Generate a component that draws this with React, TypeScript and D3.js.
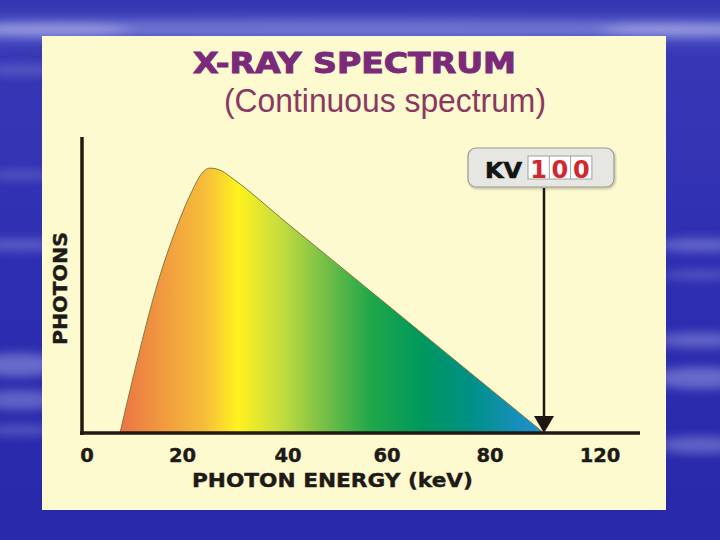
import React from "react";
import * as d3 from "d3";

const energy = [6.91, 10.68, 14.45, 18.22, 21.8, 23.51, 25.21, 27.49, 29.38, 40, 60, 80, 100];
const photons = [0, 25.2, 48.1, 66.2, 80.6, 86.2, 88.3, 87.3, 85, 69.7, 42.8, 14.7, 0];
const tickValues = [0, 20, 40, 60, 80, 120];
const kvDigits = ["1", "0", "0"];
const kvValue = 100;

const W = 720;
const H = 540;

const xScale = d3
  .scaleLinear()
  .domain([0, 20, 40, 60, 80, 100, 120])
  .range([87, 182.5, 288, 387, 490, 544, 600]);
const yScale = d3.scaleLinear().domain([0, 100]).range([433, 133]);

const gradStops: [number, string][] = [
  [120, "#ea7446"],
  [160, "#f0983f"],
  [205, "#f6be3a"],
  [238, "#fff21e"],
  [280, "#c6dd3e"],
  [330, "#6cbc48"],
  [370, "#20a84a"],
  [420, "#00985c"],
  [470, "#009086"],
  [525, "#1a8fc2"],
  [544, "#2290cc"],
];

const streaks = [
  { cx: 360, cy: 28, rx: 420, ry: 9, o: 0.26 },
  { cx: 40, cy: 30, rx: 90, ry: 8, o: 0.32 },
  { cx: 690, cy: 30, rx: 90, ry: 8, o: 0.32 },
  { cx: 20, cy: 175, rx: 40, ry: 5, o: 0.2 },
  { cx: 20, cy: 245, rx: 45, ry: 6, o: 0.26 },
  { cx: 18, cy: 365, rx: 45, ry: 12, o: 0.34 },
  { cx: 20, cy: 400, rx: 45, ry: 10, o: 0.3 },
  { cx: 20, cy: 430, rx: 40, ry: 6, o: 0.22 },
  { cx: 700, cy: 245, rx: 45, ry: 7, o: 0.3 },
  { cx: 700, cy: 275, rx: 40, ry: 5, o: 0.22 },
  { cx: 700, cy: 340, rx: 45, ry: 8, o: 0.3 },
  { cx: 700, cy: 378, rx: 50, ry: 11, o: 0.34 },
  { cx: 700, cy: 445, rx: 45, ry: 9, o: 0.3 },
  { cx: 20, cy: 70, rx: 40, ry: 6, o: 0.18 },
];

export default function App() {
  const data = energy.map((e, i) => ({ e, p: photons[i] }));
  const area = d3
    .area<{ e: number; p: number }>()
    .x((d) => xScale(d.e))
    .y0(yScale(0))
    .y1((d) => yScale(d.p))
    .curve(d3.curveMonotoneX);
  const line = d3
    .line<{ e: number; p: number }>()
    .x((d) => xScale(d.e))
    .y((d) => yScale(d.p))
    .curve(d3.curveMonotoneX);

  const gx0 = xScale(energy[0]);
  const gx1 = xScale(energy[energy.length - 1]);
  const kvX = xScale(kvValue);
  const baseY = yScale(0);

  const cellW = 21.3;
  const cellX0 = 528;

  return (
    <svg
      width={W}
      height={H}
      style={{ position: "absolute", left: 0, top: 0, display: "block" }}
    >
      <defs>
        <linearGradient id="bg" x1="0" y1="0" x2="0" y2="1">
          <stop offset="0" stopColor="#3232b0" />
          <stop offset="0.06" stopColor="#4a50c2" />
          <stop offset="0.1" stopColor="#3838b6" />
          <stop offset="0.5" stopColor="#2e2eb2" />
          <stop offset="1" stopColor="#2828aa" />
        </linearGradient>
        <filter id="blur" x="-50%" y="-300%" width="200%" height="700%">
          <feGaussianBlur stdDeviation="9 5" />
        </filter>
        <linearGradient
          id="spec"
          gradientUnits="userSpaceOnUse"
          x1={gx0}
          y1={0}
          x2={gx1}
          y2={0}
        >
          {gradStops.map(([x, c], i) => (
            <stop key={i} offset={(x - gx0) / (gx1 - gx0)} stopColor={c} />
          ))}
        </linearGradient>
        <filter id="shadow" x="-10%" y="-20%" width="120%" height="150%">
          <feDropShadow dx="1" dy="1.5" stdDeviation="1" floodColor="#000" floodOpacity="0.25" />
        </filter>
      </defs>

      <rect x={0} y={0} width={W} height={H} fill="url(#bg)" />
      <g filter="url(#blur)">
        {streaks.map((s, i) => (
          <ellipse
            key={i}
            cx={s.cx}
            cy={s.cy}
            rx={s.rx}
            ry={s.ry}
            fill="#dfe2ff"
            opacity={s.o}
          />
        ))}
      </g>

      <rect x={42} y={36} width={624} height={474} fill="#fdfad0" />

      <text
        x={193}
        y={73}
        fontFamily="DejaVu Sans"
        fontWeight="bold"
        fontSize={29}
        fill="#7a2a78"
        stroke="#7a2a78"
        strokeWidth={1}
        textLength={323}
        lengthAdjust="spacingAndGlyphs"
      >
        X-RAY SPECTRUM
      </text>
      <text
        x={224}
        y={112}
        fontFamily="Liberation Sans, Arial, sans-serif"
        fontSize={33}
        fill="#8a3862"
        textLength={322}
        lengthAdjust="spacingAndGlyphs"
      >
        (Continuous spectrum)
      </text>

      <path d={area(data) || ""} fill="url(#spec)" />
      <path d={line(data) || ""} fill="none" stroke="#857a3e" strokeWidth={1} />

      <line x1={82} y1={137} x2={82} y2={435} stroke="#221a12" strokeWidth={3.5} />
      <line x1={80} y1={baseY} x2={640} y2={baseY} stroke="#221a12" strokeWidth={3.5} />

      {tickValues.map((t) => (
        <text
          key={t}
          x={xScale(t)}
          y={462}
          textAnchor="middle"
          fontFamily="DejaVu Sans"
          fontWeight="bold"
          fontSize={19.5}
          fill="#1e1a16"
          stroke="#1e1a16"
          strokeWidth={0.4}
        >
          {t}
        </text>
      ))}
      <text
        x={192}
        y={487}
        fontFamily="DejaVu Sans"
        fontWeight="bold"
        fontSize={19}
        fill="#1e1a16"
        stroke="#1e1a16"
        strokeWidth={0.4}
        textLength={281}
        lengthAdjust="spacingAndGlyphs"
      >
        PHOTON ENERGY (keV)
      </text>
      <text
        transform="translate(67,345) rotate(-90)"
        x={0}
        y={0}
        fontFamily="DejaVu Sans"
        fontWeight="bold"
        fontSize={20}
        fill="#1e1a16"
        stroke="#1e1a16"
        strokeWidth={0.4}
        textLength={113}
        lengthAdjust="spacingAndGlyphs"
      >
        PHOTONS
      </text>

      <line x1={kvX} y1={188} x2={kvX} y2={418} stroke="#1e1610" strokeWidth={2.5} />
      <path
        d={`M${kvX - 10},${416} L${kvX + 10},${416} L${kvX},${433} Z`}
        fill="#1e1610"
      />

      <rect
        x={468}
        y={148}
        width={146}
        height={39}
        rx={8}
        fill="#e6e6e2"
        stroke="#9a9a98"
        strokeWidth={1.2}
        filter="url(#shadow)"
      />
      <text
        x={485}
        y={178}
        fontFamily="DejaVu Sans"
        fontWeight="bold"
        fontSize={21}
        fill="#141414"
        stroke="#141414"
        strokeWidth={0.6}
        textLength={37}
        lengthAdjust="spacingAndGlyphs"
      >
        KV
      </text>
      <rect x={cellX0} y={156} width={cellW * 3} height={23} fill="#ffffff" stroke="#a0a0a0" strokeWidth={1} />
      {kvDigits.map((d, i) => (
        <g key={i}>
          {i > 0 && (
            <line
              x1={cellX0 + cellW * i}
              y1={156}
              x2={cellX0 + cellW * i}
              y2={179}
              stroke="#a0a0a0"
              strokeWidth={1}
            />
          )}
          <text
            x={cellX0 + cellW * i + cellW / 2}
            y={178}
            textAnchor="middle"
            fontFamily="DejaVu Sans"
            fontWeight="bold"
            fontSize={24}
            fill="#d0282e"
          >
            {d}
          </text>
        </g>
      ))}
    </svg>
  );
}
